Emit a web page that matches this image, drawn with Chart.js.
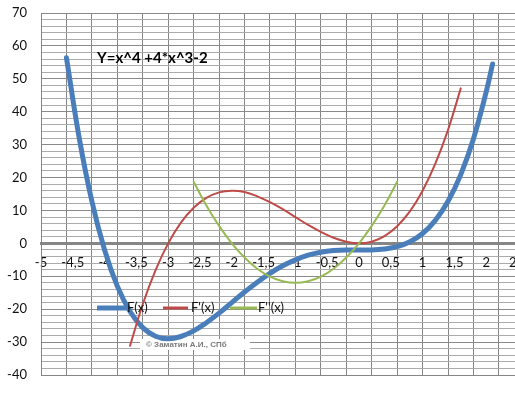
<!DOCTYPE html>
<html>
<head>
<meta charset="utf-8">
<script src="https://cdn.jsdelivr.net/npm/chart.js@4/dist/chart.umd.min.js"></script>
<style>
html,body{margin:0;padding:0;background:#fff;overflow:hidden;width:515px;height:405px;}
#wrap{position:absolute;left:0;top:0;width:530px;height:405px;}
</style>
</head>
<body>
<div id="wrap"><canvas id="c" width="530" height="405"></canvas></div>
<script>
// ---- data ----
const fX  = [-4.6,-4.4,-4.2,-4.0,-3.8,-3.6,-3.4,-3.2,-3.0,-2.8,-2.6,-2.4,-2.2,-2.0,-1.8,-1.6,-1.4,-1.2,-1.0,-0.8,-0.6,-0.4,-0.2,0,0.2,0.4,0.6,0.8,1.0,1.2,1.4,1.6,1.8,2.0,2.1];
const fY  = [56.4,32.1,12.8,-2.0,-13.0,-20.7,-25.6,-28.2,-29.0,-28.3,-26.6,-24.1,-21.2,-18.0,-14.8,-11.8,-9.1,-6.8,-5.0,-3.6,-2.7,-2.2,-2.0,-2.0,-2.0,-1.7,-1.0,0.5,3.0,7.0,12.8,20.9,31.8,46.0,54.5];
const d1X = [-3.6,-3.4,-3.2,-3.0,-2.8,-2.6,-2.4,-2.2,-2.0,-1.8,-1.6,-1.4,-1.2,-1.0,-0.8,-0.6,-0.4,-0.2,0,0.2,0.4,0.6,0.8,1.0,1.2,1.4,1.6];
const d1Y = [-31.1,-18.5,-8.2,0,6.3,10.8,13.8,15.5,16.0,15.6,14.3,12.5,10.4,8.0,5.6,3.5,1.7,0.5,0,0.5,2.2,5.2,9.7,16.0,24.2,34.5,47.1];
const d2X = [-2.6,-2.4,-2.2,-2.0,-1.8,-1.6,-1.4,-1.2,-1.0,-0.8,-0.6,-0.4,-0.2,0,0.2,0.4,0.6];
const d2Y = [18.7,11.5,5.3,0,-4.3,-7.7,-10.1,-11.5,-12.0,-11.5,-10.1,-7.7,-4.3,0,5.3,11.5,18.7];
const seriesNames = ["F(x)", "F'(x)", "F''(x)"];
const titleText = "Y=x^4 +4*x^3-2";
const creditText = "\u00A9 Заматин А.И., СПб";
const xMin = -5, xMax = 2.5, xLabelStep = 0.5, xGridStep = 0.4;
const yMin = -40, yMax = 70, yGridStep = 2, yLabelStep = 10;

const colors = ['#4A7EBB', '#BE4B48', '#98B954'];
const toPts = (xs, ys) => xs.map((x, i) => ({x: x, y: ys[i]}));

const overlay = {
  id: 'overlay',
  beforeDatasetsDraw(chart) {
    const ctx = chart.ctx;
    ctx.save();
    ctx.fillStyle = '#fff';
    ctx.fillRect(140, 339, 110, 11);
    ctx.fillStyle = '#7a7a7a';
    ctx.font = 'bold 8px "Liberation Sans", Arial, sans-serif';
    ctx.textBaseline = 'middle';
    ctx.textAlign = 'left';
    ctx.fillText(creditText, 146, 345);
    ctx.fillStyle = '#000';
    ctx.font = 'bold 15px Lato, "Liberation Sans", sans-serif';
    ctx.fillText(titleText, 97, 58);
    ctx.restore();
  },
  afterDatasetsDraw(chart) {
    const ctx = chart.ctx;
    ctx.save();
    const items = [[97, 127, 127], [163, 188, 191], [230, 257, 258]];
    ctx.font = '13px Lato, "Liberation Sans", sans-serif';
    ctx.textBaseline = 'middle';
    ctx.textAlign = 'left';
    items.forEach((it, i) => {
      ctx.strokeStyle = colors[i];
      ctx.lineWidth = i === 0 ? 5 : 3;
      ctx.beginPath();
      ctx.moveTo(it[0], 308);
      ctx.lineTo(it[1], 308);
      ctx.stroke();
      ctx.fillStyle = '#111';
      ctx.fillText(seriesNames[i], it[2], 308);
    });
    ctx.restore();
  }
};

new Chart(document.getElementById('c'), {
  type: 'line',
  data: {
    datasets: [
      {label: seriesNames[0], data: toPts(fX, fY), borderColor: colors[0], borderWidth: 5, order: 3},
      {label: seriesNames[1], data: toPts(d1X, d1Y), borderColor: colors[1], borderWidth: 2, order: 2},
      {label: seriesNames[2], data: toPts(d2X, d2Y), borderColor: colors[2], borderWidth: 2, order: 1}
    ]
  },
  options: {
    responsive: false,
    animation: false,
    devicePixelRatio: 1,
    layout: {padding: {top: 13, right: 12, bottom: 30, left: 0}},
    elements: {point: {radius: 0}, line: {tension: 0.4, fill: false, borderCapStyle: 'round', borderJoinStyle: 'round'}},
    plugins: {legend: {display: false}, tooltip: {enabled: false}},
    scales: {
      x: {
        type: 'linear', min: xMin, max: xMax,
        afterBuildTicks: (s) => {
          const t = [];
          for (let k = 0; xMin + k * xGridStep <= xMax + 1e-9; k++) t.push({value: Math.round((xMin + k * xGridStep) * 10) / 10});
          s.ticks = t;
        },
        ticks: {display: false, autoSkip: false},
        grid: {color: '#858585', lineWidth: 1, drawTicks: false},
        border: {display: true, color: '#858585', width: 1}
      },
      x2: {
        type: 'linear', min: xMin, max: xMax, position: {y: 0}, axis: 'x',
        afterFit: (s) => { s.paddingLeft = 0; s.paddingRight = 0; s.paddingTop = 0; s.paddingBottom = 0; },
        ticks: {stepSize: xLabelStep, padding: 12, color: '#111', maxRotation: 0, autoSkip: false,
          font: {family: 'Lato, "Liberation Sans", sans-serif', size: 13},
          callback: (v) => String(Math.round(v * 10) / 10).replace('.', ',')},
        grid: {display: false, drawTicks: false},
        border: {display: true, color: '#868686', width: 3}
      },
      y: {
        type: 'linear', min: yMin, max: yMax,
        afterFit: (s) => { s.width = 41; s.paddingTop = 0; s.paddingBottom = 0; },
        ticks: {stepSize: yGridStep, padding: 14, color: '#111', autoSkip: false,
          font: {family: 'Lato, "Liberation Sans", sans-serif', size: 13},
          callback: (v) => (Math.round(v) % yLabelStep === 0 ? String(v) : '')},
        grid: {drawTicks: false, lineWidth: 1,
          color: (c) => (c.tick && Math.round(c.tick.value) % yLabelStep === 0 ? '#8a8a8a' : '#ababab')},
        border: {display: true, color: '#858585', width: 1}
      }
    }
  },
  plugins: [overlay]
});
</script>
</body>
</html>
